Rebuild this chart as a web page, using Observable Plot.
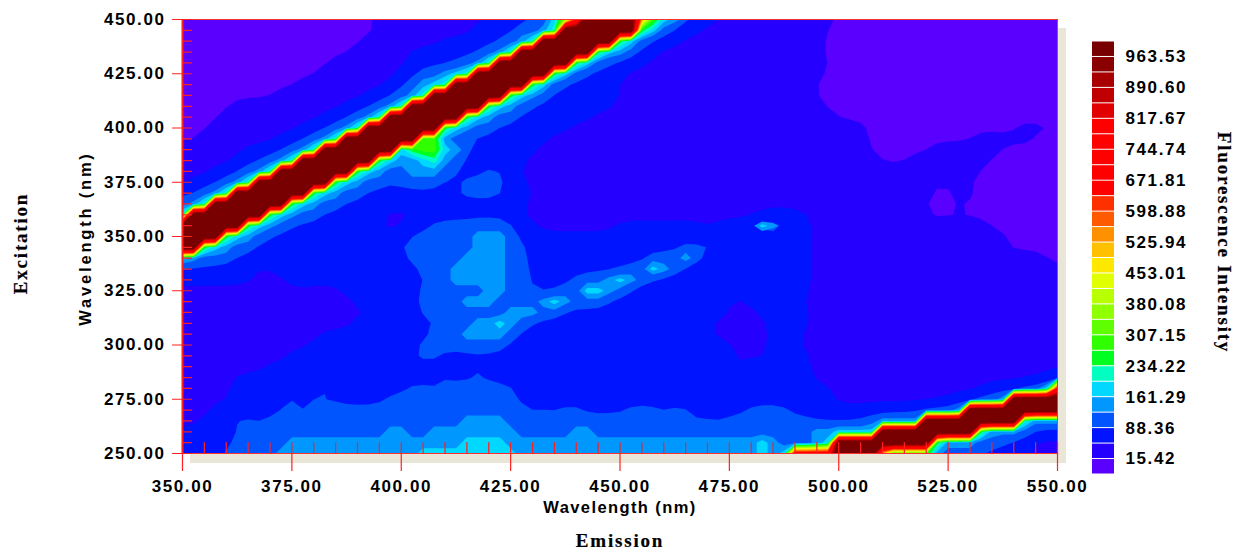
<!DOCTYPE html>
<html>
<head>
<meta charset="utf-8">
<script src="https://cdn.jsdelivr.net/npm/d3@7"></script>
<script src="https://cdn.jsdelivr.net/npm/@observablehq/plot@0.6"></script>
<style>
html,body{margin:0;padding:0;background:#fff;width:1236px;height:551px;overflow:hidden}
#wrap{position:relative;width:1236px;height:551px}
#shadow{position:absolute;left:190px;top:28px;width:876px;height:435px;background:#e9e6d8}
#main,#legend{position:absolute;top:0;left:0}
#legend{left:1092px;top:41px}
svg text{letter-spacing:1.6px}
.ttl text{font-family:"Liberation Serif",serif;font-weight:bold;font-size:19px;letter-spacing:1.8px;stroke:#000;stroke-width:.2px}
.wv text{letter-spacing:1.4px}
.wvy text{letter-spacing:2.8px}
</style>
</head>
<body>
<div id="wrap"><div id="shadow"></div><div id="main"></div><div id="legend"></div></div>
<script>
const emissionTicks = [350,375,400,425,450,475,500,525,550];
const excitationTicks = [250,275,300,325,350,375,400,425,450];
const minorStep = [250,255,260,265,270,275,280,285,290,295,300,305,310,315,320,325,330,335,340,345,350,355,360,365,370,375,380,385,390,395,400,405,410,415,420,425,430,435,440,445,450];
const minorEmission = [350,355,360,365,370,375,380,385,390,395,400,405,410,415,420,425,430,435,440,445,450,455,460,465,470,475,480,485,490,495,500,505,510,515,520,525,530,535,540,545,550];
const thresholds = [15.42,51.88,88.36,124.82,161.29,197.75,234.22,270.68,307.15,343.61,380.08,416.54,453.01,489.47,525.94,562.41,598.88,635.34,671.81,708.27,744.74,781.2,817.67,854.13,890.6,927.06,963.53];
const palette = ["#5a00ff","#2600ff","#0014ff","#0055ff","#0098ff","#00d8ff","#00ffc0","#00ff20","#30ff00","#60ff00","#90ff00","#b8ff00","#e0ff00","#ffe800","#ffc000","#ff9000","#ff5a00","#ff3000","#ff0000","#ff0000","#ff0000","#ff0000","#ff0000","#e00000","#c00000","#a80000","#8a0000","#780000"];
const legendLabels = ["15.42","88.36","161.29","234.22","307.15","380.08","453.01","525.94","598.88","671.81","744.74","817.67","890.60","963.53"];
const levelKeys = "abcdefghijklmnopqrstuvwxyzAB";
const levelValues = [5,33,70,106,143,179,216,252,289,325,362,398,435,471,508,544,580,617,653,690,726,763,799,836,872,909,945,1100];
// Excitation rows 450 → 250 nm (5 nm); emission nodes 350 → 550 nm (2.5 nm).
// Each token: intensity key + last node index of that run.
const gridRows = [
"a17 b27 c32 d33 f34 k35 s36 B41 p42 i43 f44 e45 d46 c49 b59 a80",
"a18 b26 c30 d32 e33 g34 B41 h42 f43 d44 c47 b58 a80",
"a16 b23 c29 d30 e31 g32 B39 h40 f41 d42 c45 b58 a80",
"a15 b20 c27 d28 e29 g30 B37 h38 f39 e40 d41 c43 b56 a57 b58 a80",
"a13 b20 c25 d26 e27 g28 B35 h36 f37 d38 c42 b58 a59 b60 a80",
"a12 b19 c21 d23 e24 f25 g26 B33 h34 f35 d36 c40 b58 a80",
"a10 b18 c20 d21 e22 f23 g24 B31 h32 f33 d34 c39 b57 a80",
"a8 b16 c19 d20 e21 g22 B29 h30 f31 e32 d33 c40 b57 a80",
"a4 b14 c17 d18 e19 g20 B27 h28 f29 e30 d31 c39 b58 a80",
"a3 b12 c15 d16 e17 g18 B25 h26 f27 e28 d30 c37 b59 a80",
"a2 b10 c13 d14 e15 g16 B23 h24 f25 e26 d28 c35 b62 a76 b79 a80",
"a1 b8 c11 d12 e13 g14 B21 i23 e24 d25 c33 b62 a72 b77 a80",
"b5 c9 d10 e11 g12 B19 f20 h21 i23 f24 e25 d26 c32 b62 a68 b74 a80",
"b4 c7 d8 e9 g10 B17 h18 f19 e21 f22 g23 e24 d25 c31 b63 a66 b73 a80",
"b2 c5 d6 e7 g8 B15 h16 f17 e18 d20 e23 d24 c27 d29 c30 b72 a80",
"b0 c3 d4 e5 g6 B13 h14 f15 e16 d18 c19 d23 c25 d29 c31 b68 a70 b71 a80",
"c1 d2 e3 g4 B11 h12 f13 e14 d16 c24 d29 c32 b68 a70 b72 a80",
"d0 e1 g2 B9 h10 f11 e12 d14 c31 b67 a70 b71 a80",
"g0 B7 h8 f9 e10 d12 c18 b21 c30 b53 c57 b65 a66 b67 a80",
"B5 h6 f7 e8 d9 c17 b20 c22 d30 c32 b39 c47 b48 c51 d52 f53 e54 d55 c57 b73 a80",
"B3 h4 f5 e6 d7 c20 d26 e29 d30 c49 d51 c57 b75 a80",
"B1 h2 f3 e4 d6 c19 d26 e29 d31 c45 d49 c57 b74 a79 b80",
"f0 e1 d4 c20 d25 e29 d31 c42 d45 e46 d47 c57 b78 a80",
"c6 b8 c21 d24 e29 d31 c40 d42 f43 e44 d45 c57 b79 a80",
"c6 b7 c8 b9 c22 d24 e29 d32 c35 d38 e39 f40 e41 d42 c57 b80",
"b14 c21 d27 e29 d30 c34 d36 f38 e39 d40 c47 b48 c57 b77 a78 b80",
"b9 c11 b15 c21 d25 e28 d32 e33 f34 e35 d38 c49 b51 c56 b76 a80",
"b17 c21 d29 e32 d34 c50 b52 c57 b80",
"b15 c23 d26 e28 f29 e30 d31 c46 b47 c48 b53 c57 b80",
"b9 c10 b12 c22 d25 e29 d30 c46 b47 c48 b53 c56 b80",
"b11 c21 d29 c50 b52 c53 b54 c56 b80",
"b9 c20 d23 c50 b51 c52 b53 c57 b80",
"b7 c16 d18 c26 d27 c48 b49 c50 b51 c52 b53 c57 b80",
"b1 c2 b4 c23 d24 c26 d27 c57 b79 d80",
"b2 c3 b4 c11 d14 c20 d22 c23 d30 c59 b73 c76 d78 f79 t80",
"b4 c8 d10 c11 d12 c18 d30 c38 d39 c59 b70 c72 d74 e75 B80",
"b2 c9 d10 c12 d31 c32 d33 c34 d36 c40 d43 c44 d46 c51 d55 c67 d70 e71 B80",
"b1 c3 d6 c7 d25 e29 d46 c47 d48 c49 d57 c62 d63 e67 B76 g77 e80",
"c5 d18 e20 d22 e30 d35 e37 d57 e59 f63 B72 h73 e76 d77 c80",
"c4 d9 e25 f29 e52 f53 e54 d57 e58 f59 B68 h69 e72 d74 c77 b80",
"c3 d8 e21 f30 e52 f53 e54 f55 u59 B63 o64 i68 e69 d72 c77 b80"
];

const nCols = 81, nRows = gridRows.length;
const grid = gridRows.flatMap(row => {
  const out = [];
  for (const tok of row.split(" ")) {
    const v = levelValues[levelKeys.indexOf(tok[0])], end = +tok.slice(1);
    while (out.length <= end) out.push(v);
  }
  return out;
});
// The three lowest bands are drawn from the same grid, capped, with a slight blur:
// the sharp Rayleigh ridges must not bleed into them.
const lowGrid = grid.map(v => Math.min(v, 150));

const line = {draw(c, l) { c.moveTo(0, 0); c.lineTo(0, -l); }, r: 0};
const tickOpts = {shape: line, anchor: "start", stroke: "#ff2020", strokeWidth: 1.2};
const gridBox = {width: nCols, height: nRows, x1: 348.75, x2: 551.25, y1: 452.5, y2: 247.5, fill: Plot.identity, stroke: "none", clip: true};
const tickText = {tickSize: 0, label: null, tickFormat: d => d.toFixed(2), fontSize: 17, fontWeight: "bold", fill: "#000", textStroke: "none"};

const main = Plot.plot({
  width: 1236, height: 551,
  marginLeft: 182, marginRight: 179, marginTop: 19, marginBottom: 98,
  style: {background: "transparent", fontFamily: '"Liberation Sans",Arial,sans-serif', fontWeight: "bold", fontSize: "17px", color: "#000"},
  x: {domain: [350, 550]},
  y: {domain: [250, 450]},
  color: {type: "threshold", domain: thresholds, range: palette},
  marks: [
    Plot.frame({fill: palette[0], stroke: "none"}),
    Plot.contour(lowGrid, {...gridBox, thresholds: thresholds.slice(0, 3), blur: 0.2}),
    Plot.contour(grid, {...gridBox, thresholds: thresholds.slice(3)}),
    Plot.frame({stroke: "#ff3030", strokeWidth: 1}),
    Plot.ruleX([350], {stroke: "#ff2020", strokeWidth: 2}),
    Plot.vector(minorEmission, {...tickOpts, x: d => d, y: () => 250, length: 11, rotate: 0}),
    Plot.vector(emissionTicks, {...tickOpts, x: d => d, y: () => 250, length: 17, rotate: 180}),
    Plot.vector(minorStep, {...tickOpts, x: () => 350, y: d => d, length: 9, rotate: 90}),
    Plot.vector(excitationTicks, {...tickOpts, x: () => 350, y: d => d, length: 10, rotate: 270}),
    Plot.axisX(emissionTicks, {...tickText, tickPadding: 26}),
    Plot.axisY(excitationTicks, {...tickText, tickPadding: 17}),
    Plot.text(["Wavelength (nm)"], {frameAnchor: "bottom", lineAnchor: "middle", textAnchor: "middle", dy: 54, fontSize: 16.5, fontWeight: "bold", className: "wv"}),
    Plot.text(["Wavelength (nm)"], {frameAnchor: "left", lineAnchor: "middle", textAnchor: "middle", dx: -97, dy: 2, rotate: -90, fontSize: 16.5, fontWeight: "bold", className: "wvy"}),
    Plot.text(["Emission"], {frameAnchor: "bottom", lineAnchor: "middle", textAnchor: "middle", dy: 87, className: "ttl"}),
    Plot.text(["Excitation"], {frameAnchor: "left", lineAnchor: "middle", textAnchor: "middle", dx: -162, dy: 7, rotate: -90, className: "ttl"}),
    Plot.text(["Fluorescence Intensity"], {frameAnchor: "right", lineAnchor: "middle", textAnchor: "middle", dx: 167, dy: 6, rotate: 90, className: "ttl"})
  ]
});
document.getElementById("main").append(main);

const swatches = palette.map((color, i) => ({color, i}));
const legend = Plot.plot({
  width: 110, height: 433, margin: 0,
  marginRight: 88,
  style: {background: "transparent", fontFamily: '"Liberation Sans",Arial,sans-serif', fontWeight: "bold", fontSize: "17px", color: "#000"},
  x: {domain: [0, 1], axis: null},
  y: {domain: [0, palette.length], axis: null},
  marks: [
    Plot.rect(swatches, {x1: () => 0, x2: () => 1, y1: d => d.i, y2: d => d.i + 1, fill: d => d.color, insetTop: 0.5, insetBottom: 0.5}),
    Plot.text(legendLabels, {x: () => 1, y: (d, i) => 2 * i + 1, text: d => d, textAnchor: "start", dx: 11, fontSize: 17, fontWeight: "bold", fill: "#000"})
  ]
});
document.getElementById("legend").append(legend);
</script>
</body>
</html>
